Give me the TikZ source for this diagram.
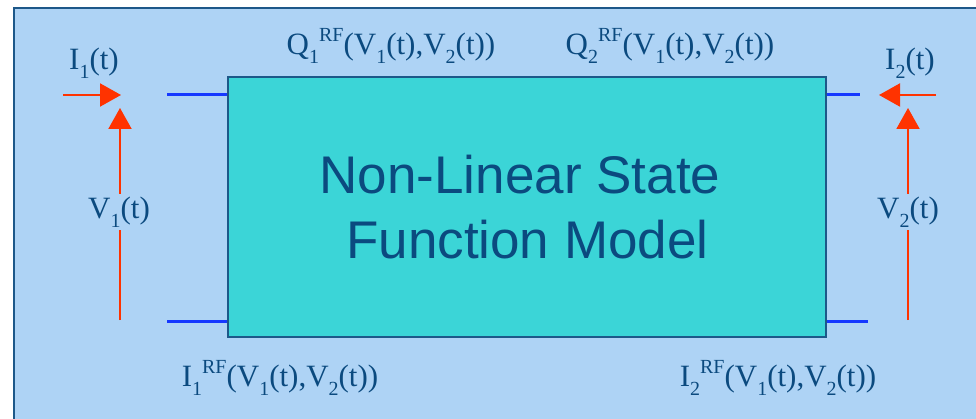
\documentclass[tikz,border=0pt]{standalone}
\usepackage{fontspec}
\setmainfont{Liberation Serif}
\newfontfamily\sansfnt{Liberation Sans}
\usetikzlibrary{arrows.meta}
\definecolor{bgblue}{HTML}{AED3F5}
\definecolor{boxfill}{HTML}{3BD5D7}
\definecolor{txtblue}{HTML}{0B4A7F}
\definecolor{framec}{HTML}{1D5889}
\definecolor{redarr}{HTML}{FF3300}
\definecolor{portblue}{HTML}{1638FF}
\newcommand{\sbs}[1]{\raisebox{-0.28em}{\fontsize{20}{20}\selectfont #1}}
\newcommand{\sps}[1]{\raisebox{0.42em}{\fontsize{20}{20}\selectfont #1}}
\begin{document}
\begin{tikzpicture}[x=1pt,y=-1pt,
  lbl/.style={text=txtblue,font=\fontsize{31}{34}\selectfont,inner sep=0pt},
  portline/.style={draw=portblue,line width=3pt},
  redarrow/.style={draw=redarr,line width=2pt,-{Triangle[length=21pt,width=23pt]}}]
\useasboundingbox (0,0) rectangle (976,419);
\fill[white] (0,0) rectangle (976,419);
\draw[fill=bgblue,draw=framec,line width=2pt] (14,8) rectangle (990,430);
\node[draw=framec,line width=1.8pt,fill=boxfill,minimum width=598pt,minimum height=260pt,inner sep=0pt] (box) at (527,207) {};
\node[text=txtblue,font=\sansfnt\fontsize{53}{65}\selectfont,align=center] (title) at (520,207) {Non-Linear State\\ \ Function Model};
% port lines
\coordinate (lt) at (167,95);
\coordinate (lb) at (167,321);
\coordinate (rt) at (860,95);
\coordinate (rb) at (868,321);
\draw[portline] (lt) -- (lt -| box.west);
\draw[portline] (lb) -- (lb -| box.west);
\draw[portline] (box.east |- rt) -- (rt);
\draw[portline] (box.east |- rb) -- (rb);
% red arrows
\coordinate (i1s) at (63,95);
\coordinate (i1e) at (121,95);
\coordinate (v1s) at (120,320);
\coordinate (v1e) at (120,108);
\coordinate (i2s) at (936,95);
\coordinate (i2e) at (879,95);
\coordinate (v2s) at (908,320);
\coordinate (v2e) at (908,108);
\draw[redarrow] (i1s) -- (i1e);
\draw[redarrow] (v1s) -- (v1e);
\draw[redarrow] (i2s) -- (i2e);
\draw[redarrow] (v2s) -- (v2e);
% labels
\node[lbl,fill=bgblue,inner sep=3pt] (v1) at (119,212) {V\sbs{1}(t)};
\node[lbl,fill=bgblue,inner sep=3pt] (v2) at (908,212) {V\sbs{2}(t)};
\node[lbl] (i1) at (94,63) {I\sbs{1}(t)};
\node[lbl] (i2) at (910,63) {I\sbs{2}(t)};
\node[lbl] (q1) at (391,46) {Q\sbs{1}\sps{RF}(V\sbs{1}(t),V\sbs{2}(t))};
\node[lbl] (q2) at (670,46) {Q\sbs{2}\sps{RF}(V\sbs{1}(t),V\sbs{2}(t))};
\node[lbl] (ir1) at (280,378) {I\sbs{1}\sps{RF}(V\sbs{1}(t),V\sbs{2}(t))};
\node[lbl] (ir2) at (778,378) {I\sbs{2}\sps{RF}(V\sbs{1}(t),V\sbs{2}(t))};
\end{tikzpicture}
\end{document}
